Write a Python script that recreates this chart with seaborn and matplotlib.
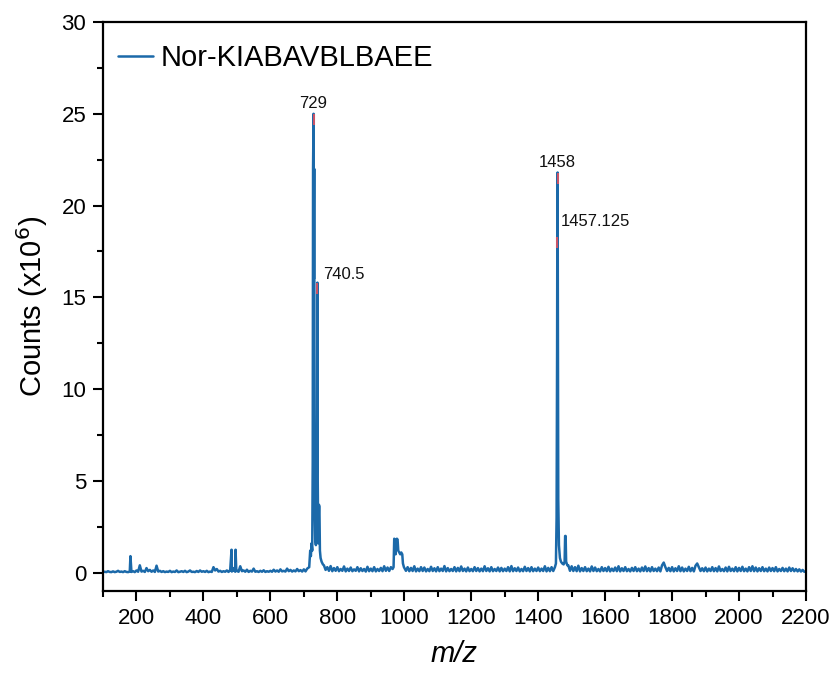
import matplotlib
matplotlib.use("Agg")
import matplotlib.pyplot as plt
import seaborn as sns
import pandas as pd
from matplotlib.ticker import MultipleLocator

# Baseline noise of the spectrum, sampled every 5 m/z from 100 to 2200 (counts, x10^6)
noise_start = 100
noise_step = 5
noise_counts = [
    # 100-195
    0.03, 0.05, 0.03, 0.08, 0.04, 0.03, 0.07, 0.03, 0.05, 0.10, 0.04, 0.06, 0.03, 0.08, 0.04, 0.03, 0.06, 0.04, 0.08, 0.03,
    # 200-295
    0.12, 0.05, 0.40, 0.06, 0.10, 0.04, 0.25, 0.08, 0.15, 0.05, 0.12, 0.04, 0.38, 0.06, 0.10, 0.04, 0.08, 0.03, 0.06, 0.04,
    # 300-395
    0.10, 0.03, 0.06, 0.04, 0.12, 0.03, 0.05, 0.08, 0.04, 0.10, 0.03, 0.06, 0.12, 0.04, 0.05, 0.03, 0.09, 0.04, 0.12, 0.05,
    # 400-495
    0.08, 0.04, 0.10, 0.03, 0.06, 0.04, 0.30, 0.12, 0.20, 0.06, 0.10, 0.04, 0.08, 0.05, 0.12, 0.04, 0.15, 0.06, 0.10, 0.05,
    # 500-595
    0.10, 0.05, 0.35, 0.08, 0.12, 0.05, 0.16, 0.04, 0.10, 0.06, 0.22, 0.05, 0.08, 0.04, 0.10, 0.05, 0.13, 0.04, 0.08, 0.05,
    # 600-695
    0.10, 0.05, 0.16, 0.06, 0.12, 0.05, 0.18, 0.07, 0.10, 0.06, 0.22, 0.08, 0.15, 0.06, 0.12, 0.07, 0.20, 0.08, 0.14, 0.06,
    # 700-795
    0.18, 0.07, 0.22, 0.08, 0.20, 0.15, 0.45, 0.20, 0.50, 0.20, 0.60, 0.20, 0.40, 0.15, 0.30, 0.10, 0.36, 0.08, 0.25, 0.10,
    # 800-895
    0.30, 0.08, 0.20, 0.10, 0.34, 0.07, 0.22, 0.09, 0.28, 0.08, 0.18, 0.10, 0.30, 0.07, 0.24, 0.09, 0.20, 0.06, 0.32, 0.08,
    # 900-995
    0.22, 0.08, 0.30, 0.07, 0.20, 0.09, 0.26, 0.08, 0.35, 0.10, 0.28, 0.09, 0.30, 0.12, 0.80, 0.50, 1.00, 0.70, 0.60, 0.40,
    # 1000-1095
    0.40, 0.10, 0.30, 0.08, 0.26, 0.09, 0.35, 0.07, 0.22, 0.08, 0.30, 0.09, 0.28, 0.07, 0.20, 0.08, 0.32, 0.09, 0.24, 0.07,
    # 1100-1195
    0.30, 0.08, 0.22, 0.09, 0.36, 0.07, 0.25, 0.08, 0.20, 0.09, 0.30, 0.07, 0.26, 0.08, 0.34, 0.09, 0.22, 0.07, 0.28, 0.08,
    # 1200-1295
    0.20, 0.08, 0.30, 0.09, 0.25, 0.07, 0.22, 0.08, 0.35, 0.09, 0.24, 0.07, 0.30, 0.08, 0.20, 0.09, 0.28, 0.07, 0.26, 0.08,
    # 1300-1395
    0.22, 0.09, 0.30, 0.07, 0.36, 0.08, 0.24, 0.09, 0.28, 0.07, 0.20, 0.08, 0.32, 0.09, 0.25, 0.07, 0.30, 0.08, 0.22, 0.09,
    # 1400-1495
    0.28, 0.08, 0.22, 0.09, 0.35, 0.07, 0.26, 0.08, 0.30, 0.09, 0.40, 0.10, 0.50, 0.20, 0.60, 0.30, 0.50, 0.20, 0.40, 0.10,
    # 1500-1595
    0.35, 0.09, 0.30, 0.08, 0.38, 0.07, 0.25, 0.09, 0.30, 0.08, 0.22, 0.07, 0.34, 0.09, 0.28, 0.08, 0.20, 0.07, 0.30, 0.09,
    # 1600-1695
    0.25, 0.08, 0.32, 0.07, 0.22, 0.09, 0.28, 0.08, 0.35, 0.07, 0.24, 0.09, 0.30, 0.08, 0.20, 0.07, 0.26, 0.09, 0.30, 0.08,
    # 1700-1795
    0.22, 0.07, 0.28, 0.09, 0.34, 0.08, 0.25, 0.07, 0.30, 0.09, 0.22, 0.08, 0.28, 0.07, 0.40, 0.55, 0.30, 0.09, 0.26, 0.08,
    # 1800-1895
    0.30, 0.07, 0.24, 0.09, 0.35, 0.08, 0.28, 0.07, 0.22, 0.09, 0.32, 0.08, 0.26, 0.07, 0.38, 0.50, 0.30, 0.09, 0.24, 0.08,
    # 1900-1995
    0.28, 0.07, 0.22, 0.09, 0.30, 0.08, 0.25, 0.07, 0.34, 0.09, 0.20, 0.08, 0.28, 0.07, 0.32, 0.09, 0.22, 0.08, 0.30, 0.07,
    # 2000-2095
    0.26, 0.09, 0.32, 0.08, 0.22, 0.07, 0.30, 0.09, 0.35, 0.08, 0.28, 0.07, 0.24, 0.09, 0.30, 0.08, 0.22, 0.07, 0.28, 0.09,
    # 2100-2195
    0.25, 0.08, 0.30, 0.07, 0.20, 0.09, 0.26, 0.08, 0.22, 0.07, 0.28, 0.09, 0.24, 0.08, 0.20, 0.07, 0.18, 0.06, 0.15, 0.05,
    # 2200
    0.06,
]

# Resolved peak regions (m/z, counts x10^6)
peak_mz = [
    182, 484, 486, 491, 496, 498,
    716, 719, 721, 723, 725, 726.5, 727.5, 729, 730, 731, 732, 734, 736, 738,
    739.5, 740.5, 741.5, 743, 745, 746.5, 748, 750, 753, 757,
    965, 968, 970, 972, 974, 976, 978, 980, 982, 985, 988, 991, 994, 996, 999,
    1450, 1453, 1455, 1456.5, 1457.125, 1458, 1459, 1460, 1462, 1465, 1468,
    1472, 1476, 1479, 1480.5, 1482, 1483.5, 1487,
]
peak_counts = [
    0.90, 1.25, 0.20, 0.25, 1.25, 0.20,
    0.30, 1.20, 0.90, 1.60, 1.20, 6.00, 22.0, 25.0, 16.0, 22.0, 4.00, 1.80, 1.50, 3.00,
    9.00, 15.8, 5.00, 1.60, 3.70, 3.60, 1.20, 0.80, 0.60, 0.45,
    0.20, 0.30, 1.85, 1.80, 1.00, 1.50, 1.85, 1.80, 1.20, 1.10, 1.00, 1.10, 1.00, 0.50, 0.30,
    0.30, 0.50, 3.00, 12.0, 18.3, 21.8, 14.0, 4.00, 1.50, 0.80, 0.60,
    0.50, 0.45, 0.60, 2.00, 2.00, 0.60, 0.40,
]
# m/z windows where the resolved peak data replace the baseline samples
peak_windows = [(714, 759), (963, 1000), (1448, 1489)]

# Annotated peaks
label_mz = [729, 740.5, 1458, 1457.125]
label_counts = [25.0, 15.8, 21.8, 18.3]
label_text = ["729", "740.5", "1458", "1457.125"]

series_name = "Nor-KIABAVBLBAEE"
x_ticks = [200, 400, 600, 800, 1000, 1200, 1400, 1600, 1800, 2000, 2200]
y_ticks = [0, 5, 10, 15, 20, 25, 30]

# Assemble the spectrum profile
noise_mz = [noise_start + i * noise_step for i in range(len(noise_counts))]
rows = [(m, c) for m, c in zip(noise_mz, noise_counts)
        if not any(lo <= m <= hi for lo, hi in peak_windows)]
rows += list(zip(peak_mz, peak_counts))
spec = pd.DataFrame(rows, columns=["mz", "counts"]).sort_values("mz")
spec["series"] = series_name

sns.set_theme(style="ticks")
plt.rcParams["font.family"] = ["Liberation Sans", "DejaVu Sans"]
for key in ("text.color", "axes.labelcolor", "xtick.color", "ytick.color", "axes.edgecolor"):
    plt.rcParams[key] = "black"

line_color = "#1b69a9"
fig = plt.figure(figsize=(8.38, 6.77), dpi=100)
ax = fig.add_axes([0.1229, 0.127, 0.8389, 0.8405])

sns.lineplot(data=spec, x="mz", y="counts", hue="series", palette=[line_color],
             estimator=None, sort=False, linewidth=1.8, ax=ax)

# Red tips on the annotated peaks
ax.vlines(label_mz, [c - 0.6 for c in label_counts], label_counts,
          colors="#e8505b", linewidth=1.5, alpha=0.85, zorder=3)

offsets = [(0, 2), (4, 6), (0, 2), (2.5, 11)]
aligns = [("center", "bottom"), ("left", "center"), ("center", "bottom"), ("left", "center")]
for m, c, t, off, (ha, va) in zip(label_mz, label_counts, label_text, offsets, aligns):
    ax.annotate(t, xy=(m, c), xytext=off, textcoords="offset points",
                ha=ha, va=va, fontsize=12, color="#111111")

ax.set_xlim(100, 2200)
ax.set_ylim(-1, 30)
ax.set_xticks(x_ticks)
ax.set_yticks(y_ticks)
ax.xaxis.set_minor_locator(MultipleLocator(100))
ax.yaxis.set_minor_locator(MultipleLocator(2.5))
ax.tick_params(axis="both", which="major", direction="out", length=7, width=1.5,
               labelsize=16, colors="black", pad=5, top=False, right=False)
ax.tick_params(axis="both", which="minor", direction="out", length=4, width=1.5,
               top=False, right=False)
for s in ax.spines.values():
    s.set_visible(True)
    s.set_linewidth(1.6)
    s.set_color("black")

ax.set_xlabel("m/z", fontsize=21, style="italic", labelpad=8)
ax.set_ylabel(r"Counts (x10$^{6}$)", fontsize=21, labelpad=8)

leg = ax.legend(loc="upper left", bbox_to_anchor=(-0.01, 1.0), frameon=False,
                fontsize=21, handlelength=1.2, handletextpad=0.25, borderaxespad=0.35)
for h in leg.get_lines():
    h.set_linewidth(1.8)

fig.savefig("out.png", dpi=100)
